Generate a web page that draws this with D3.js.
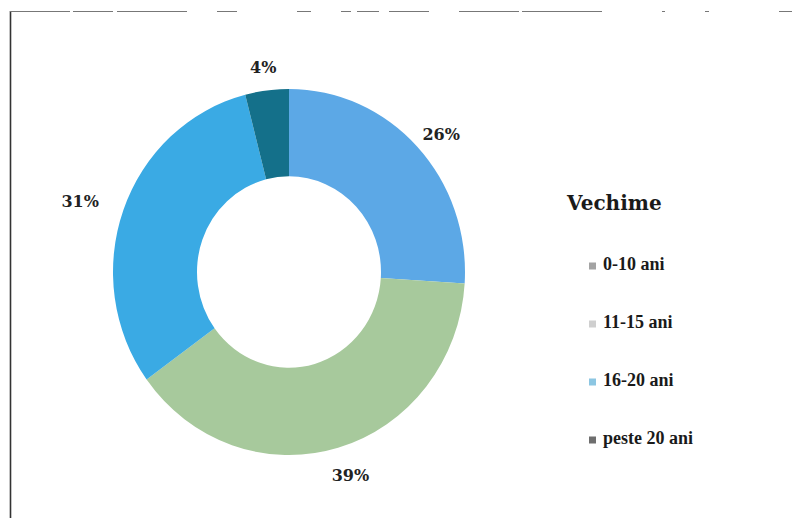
<!DOCTYPE html>
<html>
<head>
<meta charset="utf-8">
<script src="https://cdn.jsdelivr.net/npm/d3@7"></script>
<style>
  html, body { margin: 0; padding: 0; background: #fff; }
  svg { display: block; }
</style>
</head>
<body>
<svg id="chart" width="792" height="518"></svg>
<script>
// Vechime (seniority) distribution
const categories = ["0-10 ani", "11-15 ani", "16-20 ani", "peste 20 ani"];
const values = [26, 39, 31, 4];
const labels = ["26%", "39%", "31%", "4%"];
const sliceColors = ["#5ca8e6", "#a7c99c", "#3aaae4", "#14708a"];
const legendMarkerColors = ["#a3a3a3", "#cfcfcf", "#8cc6e2", "#6e6e6e"];
const legendTitle = "Vechime";

const svg = d3.select("#chart");

// Frame lines
svg.append("line")
  .attr("x1", 10.5).attr("x2", 10.5).attr("y1", 11).attr("y2", 518)
  .attr("stroke", "#333").attr("stroke-width", 1.6);
svg.append("line")
  .attr("x1", 10).attr("x2", 792).attr("y1", 11.5).attr("y2", 11.5)
  .attr("stroke", "#777").attr("stroke-width", 1.2)
  .attr("stroke-dasharray", "60 3 40 4 70 30 20 60 14 30 10 6 22 10 40 30 60 3 80");

// Donut
const cx = 289, cy = 272;
const outerR = 176, innerR = 92;
const g = svg.append("g")
  .attr("transform", `translate(${cx},${cy}) scale(1,1.04)`);

const pie = d3.pie().sort(null).value(d => d)(values);
const arc = d3.arc().innerRadius(innerR).outerRadius(outerR);

g.selectAll("path.slice")
  .data(pie)
  .join("path")
  .attr("class", "slice")
  .attr("d", arc)
  .attr("fill", (d, i) => sliceColors[i]);

// Percentage labels placed outside the ring
const labelArc = d3.arc().innerRadius(outerR + 30).outerRadius(outerR + 30);
const labelOffsets = [[2, 10], [4, -1], [-15, 3], [0, 9]];
svg.selectAll("text.pct")
  .data(pie)
  .join("text")
  .attr("class", "pct")
  .attr("x", (d, i) => cx + labelArc.centroid(d)[0] + labelOffsets[i][0])
  .attr("y", (d, i) => cy + labelArc.centroid(d)[1] * 1.04 + labelOffsets[i][1])
  .attr("text-anchor", "middle")
  .attr("dominant-baseline", "middle")
  .attr("font-family", "'DejaVu Serif', serif")
  .attr("font-weight", "bold")
  .attr("font-size", 16)
  .attr("fill", "#222")
  .text((d, i) => labels[i]);

// Legend
svg.append("text")
  .attr("x", 567).attr("y", 210)
  .attr("font-family", "'DejaVu Serif', serif")
  .attr("font-weight", "bold")
  .attr("font-size", 20)
  .attr("fill", "#1a1a1a")
  .text(legendTitle);

const legendY = d3.scalePoint().domain(categories).range([266, 440]);
const item = svg.selectAll("g.legend-item")
  .data(categories)
  .join("g")
  .attr("class", "legend-item")
  .attr("transform", d => `translate(589,${legendY(d)})`);

item.append("rect")
  .attr("x", 0).attr("y", -3.5).attr("width", 7).attr("height", 7)
  .attr("fill", (d, i) => legendMarkerColors[i]);

item.append("text")
  .attr("x", 14).attr("y", 0)
  .attr("dominant-baseline", "middle")
  .attr("font-family", "'Liberation Serif', serif")
  .attr("font-weight", "bold")
  .attr("font-size", 18)
  .attr("fill", "#1a1a1a")
  .text(d => d);
</script>
</body>
</html>
